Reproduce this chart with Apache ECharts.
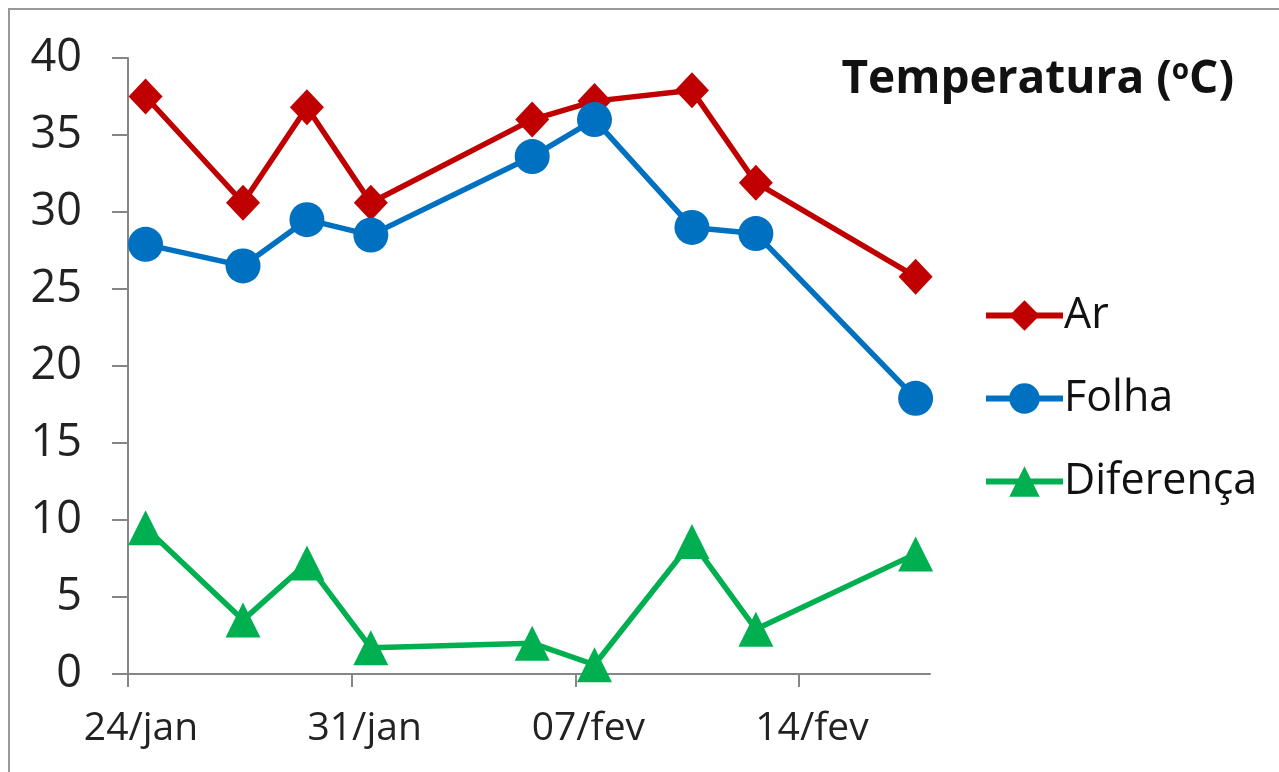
<!DOCTYPE html>
<html>
<head>
<meta charset="utf-8">
<script src="https://cdn.jsdelivr.net/npm/echarts@6/dist/echarts.min.js"></script>
<style>
  html, body { margin: 0; padding: 0; background: #fff; }
  #grafico { width: 1279px; height: 772px; }
</style>
</head>
<body>
<div id="grafico"></div>
<script>
/** dados lidos do grafico */
// dias contados a partir de 24/jan (medicoes a tarde)
var dias = [0.55, 3.6, 5.6, 7.6, 12.65, 14.6, 17.65, 19.65, 24.65];
var rotulosX = ['24/jan', '31/jan', '07/fev', '14/fev'];
var ar = [37.5, 30.6, 36.8, 30.6, 36.0, 37.2, 37.9, 31.9, 25.8];
var folha = [27.9, 26.5, 29.5, 28.5, 33.6, 36.0, 29.0, 28.6, 17.9];
var diferenca = [9.5, 3.5, 7.2, 1.7, 2.0, 0.6, 8.6, 2.9, 7.8];

/** configuracao */
var cfg = {
    fonte: '"Open Sans", "Noto Sans", sans-serif',
    cinza: '#868686',
    largLinha: 5.5
}

// junta x e y em pares
var pares = function(ys) {
    var out = [];
    for (var i = 0; i < ys.length; i++) {
        out.push([dias[i], ys[i]]);
    }
    return out;
}

var serie = function(nome, ys, cor, simbolo, tam) {
    return {
        name: nome,
        type: 'line',
        data: pares(ys),
        symbol: simbolo,
        symbolSize: tam,
        showAllSymbol: true,
        lineStyle: {color: cor, width: cfg.largLinha},
        itemStyle: {color: cor},
        animation: false
    }
}

var myChart = echarts.init(document.getElementById('grafico'));

var option = {
    backgroundColor: '#fff',
    textStyle: {fontFamily: cfg.fonte},
    title: {
        text: '{a|Temperatura (}{s|o}{a|C)}',
        right: 40,
        top: 52,
        textStyle: {
            rich: {
                a: {fontSize: 46, fontWeight: 'bold', color: '#111', fontFamily: cfg.fonte},
                s: {fontSize: 28, fontWeight: 'bold', color: '#111', fontFamily: cfg.fonte, padding: [0, 0, 18, 0]}
            }
        }
    },
    legend: {
        orient: 'vertical',
        left: 978,
        top: 289,
        itemWidth: 77,
        itemHeight: 38,
        itemGap: 40,
        lineStyle: {width: 6},
        textStyle: {fontSize: 43, color: '#111', padding: [0, 0, 0, -4]},
        data: ['Ar', 'Folha', 'Diferença']
    },
    grid: {left: 128, right: 349, top: 58, bottom: 98},
    xAxis: {
        type: 'value',
        min: 0,
        max: 25.1,
        interval: 7,
        splitLine: {show: false},
        axisLine: {show: true, lineStyle: {color: cfg.cinza, width: 2}},
        axisTick: {show: true, length: 13, lineStyle: {color: cfg.cinza, width: 2}, customValues: [0, 7, 14, 21]},
        axisLabel: {
            customValues: [0, 7, 14, 21],
            formatter: function(v) { return rotulosX[Math.round(v / 7)]; },
            fontSize: 39,
            color: '#222',
            margin: 35,
            padding: [0, 0, 0, 26]
        }
    },
    yAxis: {
        type: 'value',
        min: 0,
        max: 40,
        interval: 5,
        splitLine: {show: false},
        axisLine: {show: true, lineStyle: {color: cfg.cinza, width: 2}},
        axisTick: {show: true, length: 16, lineStyle: {color: cfg.cinza, width: 2}},
        axisLabel: {fontSize: 45, color: '#222', margin: 46}
    },
    graphic: [{
        type: 'rect',
        shape: {x: 9, y: 9, width: 1400, height: 900},
        style: {fill: 'none', stroke: '#999', lineWidth: 2},
        silent: true
    }],
    series: [
        serie('Ar', ar, '#C00000', 'diamond', [34, 36]),
        serie('Folha', folha, '#0070C0', 'circle', 35),
        serie('Diferença', diferenca, '#00B050', 'triangle', 35)
    ]
};

myChart.setOption(option);
</script>
</body>
</html>
